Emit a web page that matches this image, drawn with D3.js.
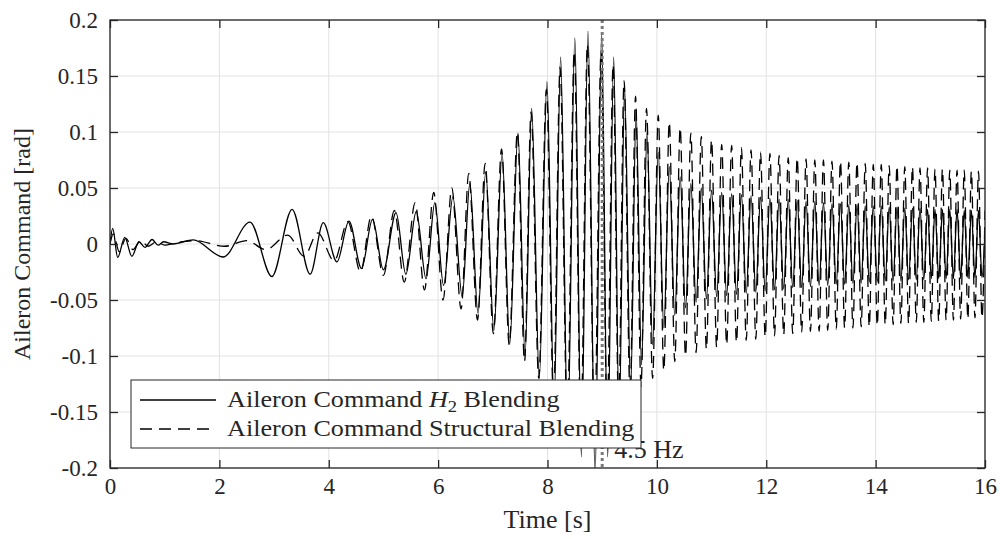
<!DOCTYPE html>
<html>
<head>
<meta charset="utf-8">
<script src="https://cdn.jsdelivr.net/npm/d3@7"></script>
<style>
  body { margin: 0; background: #fff; }
  svg { display: block; }
  text { font-family: "Liberation Serif", "DejaVu Serif", serif; fill: #262626; }
</style>
</head>
<body>
<svg id="chart"></svg>
<script>
// extrema of the H2 blending command (t in s, value in rad)
var h2Time = [0, 0.05, 0.14, 0.27, 0.4, 0.53, 0.64, 0.77, 0.88, 0.98,
  1.15, 1.52, 2.07, 2.56, 2.96, 3.33, 3.66, 3.9, 4.15, 4.37,
  4.6, 4.8, 5.0, 5.23, 5.41, 5.6, 5.78, 5.94, 6.1, 6.27,
  6.44, 6.58, 6.73, 6.87, 7.02, 7.17, 7.31, 7.46, 7.59, 7.71,
  7.85, 7.99, 8.12, 8.24, 8.37, 8.5, 8.62, 8.74, 8.87, 8.99,
  9.1, 9.21, 9.31, 9.41, 9.52, 9.62, 9.72, 9.82];
var h2Value = [0, 0.014, -0.012, 0.006, -0.011, 0.002, -0.003, 0.004, -0.001, 0.002,
  0.0, 0.0036, -0.0116, 0.0196, -0.029, 0.031, -0.027, 0.019, -0.016, 0.0205,
  -0.022, 0.022, -0.023, 0.028, -0.027, 0.029, -0.031, 0.037, -0.037, 0.042,
  -0.047, 0.054, -0.062, 0.064, -0.077, 0.081, -0.089, 0.099, -0.099, 0.121,
  -0.12, 0.145, -0.145, 0.167, -0.17, 0.184, -0.19, 0.19, -0.205, 0.188,
  -0.19, 0.167, -0.16, 0.139, -0.13, 0.118, -0.108, 0.1];

// extrema of the structural blending command
var structTime = [0, 0.06, 0.17, 0.29, 0.42, 0.56, 0.7, 0.85, 1.0, 1.2,
  1.55, 2.1, 2.5, 2.85, 3.25, 3.55, 3.8, 4.1, 4.35, 4.58,
  4.78, 5.0, 5.2, 5.38, 5.58, 5.75, 5.92, 6.09, 6.25, 6.42,
  6.56, 6.72, 6.86, 7.01, 7.16, 7.3, 7.45, 7.58, 7.7, 7.84,
  7.98, 8.11, 8.23, 8.36, 8.49, 8.61, 8.73, 8.86, 8.98, 9.09,
  9.2, 9.3, 9.4, 9.51, 9.61, 9.71, 9.81];
var structValue = [0, 0.009, -0.007, 0.005, -0.005, 0.003, -0.002, 0.002, -0.001, 0.001,
  0.003, -0.002, 0.003, -0.005, 0.008, -0.011, 0.01, -0.015, 0.02, -0.025,
  0.025, -0.028, 0.03, -0.034, 0.037, -0.041, 0.046, -0.05, 0.05, -0.058,
  0.063, -0.068, 0.072, -0.08, 0.085, -0.09, 0.1, -0.105, 0.118, -0.12,
  0.138, -0.138, 0.158, -0.155, 0.172, -0.165, 0.178, -0.165, 0.172, -0.155,
  0.16, -0.145, 0.146, -0.135, 0.132, -0.127, 0.121];

// after ~10 s both commands swing at the same times
var tailTime = [9.922, 10.025, 10.127, 10.227, 10.327, 10.426, 10.524, 10.621, 10.717, 10.812,
  10.906, 11.0, 11.093, 11.185, 11.276, 11.367, 11.456, 11.546, 11.634, 11.722,
  11.809, 11.895, 11.981, 12.067, 12.151, 12.235, 12.319, 12.402, 12.484, 12.566,
  12.647, 12.728, 12.808, 12.888, 12.967, 13.046, 13.124, 13.202, 13.28, 13.357,
  13.433, 13.509, 13.585, 13.66, 13.735, 13.81, 13.884, 13.957, 14.03, 14.103,
  14.176, 14.248, 14.32, 14.391, 14.462, 14.533, 14.603, 14.673, 14.743, 14.812,
  14.881, 14.95, 15.018, 15.086, 15.154, 15.222, 15.289, 15.356, 15.422, 15.489,
  15.555, 15.62, 15.686, 15.751, 15.816, 15.881, 15.945, 16.0];
var tailH2 = [-0.09, 0.082, -0.075, 0.069, -0.064, 0.06, -0.057, 0.054, -0.052, 0.05,
  -0.049, 0.048, -0.047, 0.046, -0.046, 0.045, -0.045, 0.044, -0.044, 0.043,
  -0.043, 0.042, -0.042, 0.041, -0.041, 0.04, -0.04, 0.04, -0.039, 0.039,
  -0.039, 0.038, -0.038, 0.038, -0.037, 0.037, -0.037, 0.036, -0.036, 0.036,
  -0.036, 0.035, -0.035, 0.035, -0.035, 0.034, -0.034, 0.034, -0.034, 0.034,
  -0.033, 0.033, -0.033, 0.033, -0.033, 0.032, -0.032, 0.032, -0.032, 0.032,
  -0.032, 0.031, -0.031, 0.031, -0.031, 0.031, -0.031, 0.031, -0.031, 0.031,
  -0.031, 0.03, -0.03, 0.03, -0.03, 0.03, -0.03, 0.012];
var tailStruct = [-0.12, 0.115, -0.113, 0.109, -0.105, 0.104, -0.1, 0.099, -0.097, 0.096,
  -0.094, 0.093, -0.092, 0.089, -0.09, 0.088, -0.088, 0.086, -0.086, 0.084,
  -0.085, 0.082, -0.083, 0.081, -0.082, 0.079, -0.081, 0.077, -0.08, 0.077,
  -0.079, 0.076, -0.078, 0.075, -0.078, 0.075, -0.077, 0.074, -0.076, 0.074,
  -0.075, 0.073, -0.075, 0.073, -0.074, 0.072, -0.074, 0.071, -0.073, 0.071,
  -0.072, 0.07, -0.072, 0.07, -0.071, 0.069, -0.071, 0.069, -0.07, 0.068,
  -0.07, 0.068, -0.069, 0.067, -0.069, 0.067, -0.068, 0.066, -0.068, 0.066,
  -0.067, 0.066, -0.067, 0.065, -0.066, 0.065, -0.066, 0.03];

var xTicks = [0, 2, 4, 6, 8, 10, 12, 14, 16];
var yTicks = [-0.2, -0.15, -0.1, -0.05, 0, 0.05, 0.1, 0.15, 0.2];
var yTickLabels = ["-0.2", "-0.15", "-0.1", "-0.05", "0", "0.05", "0.1", "0.15", "0.2"];
var markerTime = 9;
var markerLabel = "4.5 Hz";

var width = 1000, height = 539;
var margin = {top: 20, right: 15, bottom: 71, left: 110};
var ink = "#262626";
var dash = "12,7";

var svg = d3.select("#chart").attr("width", width).attr("height", height);

var x = d3.scaleLinear().domain([0, 16]).range([margin.left, width - margin.right]);
var y = d3.scaleLinear().domain([-0.2, 0.2]).range([height - margin.bottom, margin.top]);

var pair = function (ts, vs) {
  return ts.map(function (t, i) { return [t, vs[i]]; });
};
var h2Points = pair(h2Time.concat(tailTime), h2Value.concat(tailH2));
var structPoints = pair(structTime.concat(tailTime), structValue.concat(tailStruct));

// grid
var grid = svg.append("g").attr("stroke", "#e2e2e2").attr("stroke-width", 1);
grid.selectAll("line.gx").data(xTicks).enter().append("line")
  .attr("x1", function (d) { return x(d); }).attr("x2", function (d) { return x(d); })
  .attr("y1", y(-0.2)).attr("y2", y(0.2));
grid.selectAll("line.gy").data(yTicks).enter().append("line")
  .attr("y1", function (d) { return y(d); }).attr("y2", function (d) { return y(d); })
  .attr("x1", x(0)).attr("x2", x(16));

svg.append("clipPath").attr("id", "plot-clip").append("rect")
  .attr("x", x(0)).attr("y", y(0.2))
  .attr("width", x(16) - x(0)).attr("height", y(-0.2) - y(0.2));

var line = d3.line()
  .x(function (d) { return x(d[0]); })
  .y(function (d) { return y(d[1]); })
  .curve(d3.curveMonotoneX);

var plot = svg.append("g").attr("clip-path", "url(#plot-clip)");
plot.append("path").datum(structPoints)
  .attr("d", line).attr("fill", "none")
  .attr("stroke", "#000").attr("stroke-width", 1.3)
  .attr("stroke-dasharray", dash);
plot.append("path").datum(h2Points)
  .attr("d", line).attr("fill", "none")
  .attr("stroke", "#000").attr("stroke-width", 1.3);

// 4.5 Hz marker
svg.append("line")
  .attr("x1", x(markerTime)).attr("x2", x(markerTime))
  .attr("y1", y(0.2)).attr("y2", y(-0.2))
  .attr("stroke", "#7a7a7a").attr("stroke-width", 3)
  .attr("stroke-dasharray", "3,3");
svg.append("text")
  .attr("x", x(markerTime) + 12).attr("y", 458)
  .style("font-size", "26px")
  .text(markerLabel);

// axes with inward ticks on all four sides
var styleAxis = function (g) {
  g.select(".domain").remove();
  g.selectAll(".tick line").attr("stroke", ink).attr("stroke-width", 1.3);
  g.selectAll(".tick text").style("font-size", "23px").attr("fill", ink)
    .style("font-family", "'Liberation Serif', 'DejaVu Serif', serif");
};
svg.append("g").attr("transform", "translate(0," + y(-0.2) + ")")
  .call(d3.axisBottom(x).tickValues(xTicks).tickSizeInner(-8).tickSizeOuter(0).tickPadding(10))
  .call(styleAxis);
svg.append("g").attr("transform", "translate(0," + y(0.2) + ")")
  .call(d3.axisTop(x).tickValues(xTicks).tickSizeInner(-8).tickSizeOuter(0).tickFormat(""))
  .call(styleAxis);
svg.append("g").attr("transform", "translate(" + x(0) + ",0)")
  .call(d3.axisLeft(y).tickValues(yTicks).tickSizeInner(-8).tickSizeOuter(0).tickPadding(12)
    .tickFormat(function (d, i) { return yTickLabels[i]; }))
  .call(styleAxis);
svg.append("g").attr("transform", "translate(" + x(16) + ",0)")
  .call(d3.axisRight(y).tickValues(yTicks).tickSizeInner(-8).tickSizeOuter(0).tickFormat(""))
  .call(styleAxis);

svg.append("rect")
  .attr("x", x(0)).attr("y", y(0.2))
  .attr("width", x(16) - x(0)).attr("height", y(-0.2) - y(0.2))
  .attr("fill", "none").attr("stroke", ink).attr("stroke-width", 1.3);

svg.append("text")
  .attr("x", (x(0) + x(16)) / 2).attr("y", 528)
  .attr("text-anchor", "middle").style("font-size", "26px")
  .text("Time [s]");
svg.append("text")
  .attr("transform", "translate(30," + y(0) + ") rotate(-90)")
  .attr("text-anchor", "middle").style("font-size", "24px")
  .text("Aileron Command [rad]");

// legend (text widened a little to the reference's wider serif face)
var legend = svg.append("g").attr("transform", "translate(131,380)");
legend.append("rect").attr("width", 510).attr("height", 68)
  .attr("fill", "#fff").attr("stroke", ink).attr("stroke-width", 1);
legend.append("line").attr("x1", 9).attr("x2", 85).attr("y1", 20).attr("y2", 20)
  .attr("stroke", "#000").attr("stroke-width", 1.3);
legend.append("line").attr("x1", 9).attr("x2", 85).attr("y1", 49).attr("y2", 49)
  .attr("stroke", "#000").attr("stroke-width", 1.3).attr("stroke-dasharray", dash);
var t1 = legend.append("text")
  .attr("transform", "translate(96,27) scale(1.09,1)").style("font-size", "24px");
t1.append("tspan").text("Aileron Command ");
t1.append("tspan").style("font-style", "italic").text("H");
t1.append("tspan").attr("dy", 5).style("font-size", "17px").text("2");
t1.append("tspan").attr("dy", -5).text(" Blending");
legend.append("text")
  .attr("transform", "translate(96,56) scale(1.09,1)").style("font-size", "24px")
  .text("Aileron Command Structural Blending");
</script>
</body>
</html>
